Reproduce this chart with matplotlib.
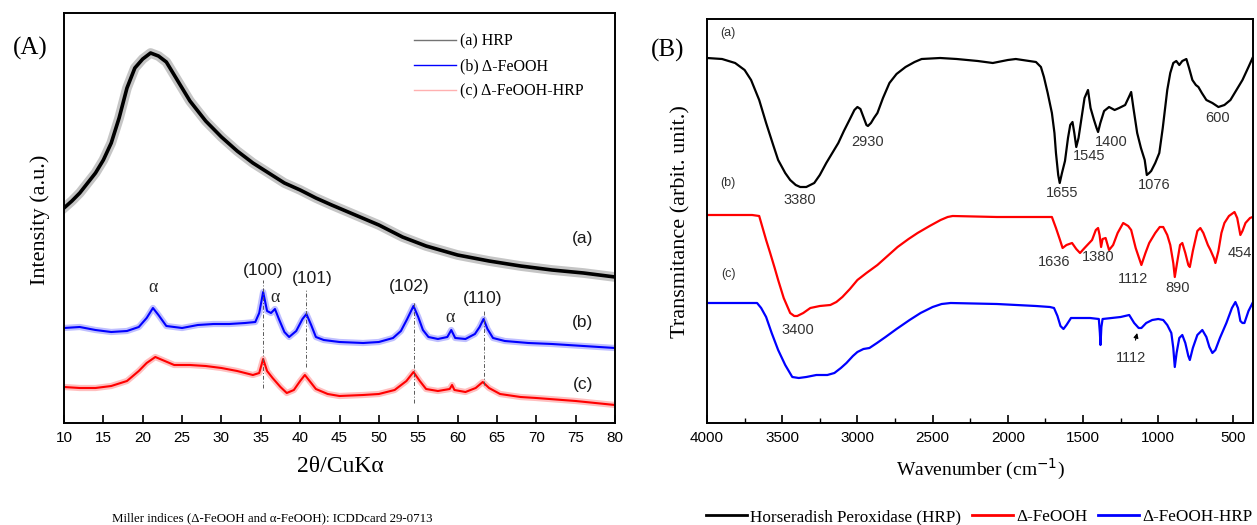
import matplotlib
matplotlib.use('Agg')
import matplotlib.pyplot as plt
from matplotlib.lines import Line2D

plt.rcParams['font.family'] = ['Liberation Serif', 'DejaVu Serif']
SANS = ['Liberation Sans', 'DejaVu Sans']

# ---- XRD patterns (A) ----
tt_a = [10, 11, 12, 13, 14, 15, 16, 17, 18, 19, 20, 21, 22, 23, 24, 25, 26, 27, 28,
        30, 32, 34, 36, 38, 40, 42, 44, 47, 50, 53, 56, 60, 64, 68, 72, 76, 80]
int_a = [215, 222, 230, 240, 250, 263, 280, 305, 335, 355, 364, 370, 367, 361, 348, 335, 322, 312, 302,
         286, 272, 260, 250, 240, 233, 225, 218, 208, 198, 186, 177, 168, 162, 157, 153, 150, 146]

tt_b = [10, 12, 14, 16, 18, 19.5, 20.5, 21.3, 22, 23, 25, 27, 29, 31, 33, 34.3, 34.8, 35.3, 35.8,
        36.3, 36.8, 37.3, 38, 38.6, 39.5, 40.3, 40.8, 41.4, 42, 43, 45, 48, 50, 51.8, 52.8, 53.6,
        54.4, 55, 55.6, 56.3, 57.5, 58.7, 59.2, 59.7, 61, 62.2, 62.8, 63.3, 63.8, 64.5, 66, 69, 72, 76, 80]
int_b = [95, 96, 93, 91, 92, 96, 105, 115, 108, 97, 95, 98, 99, 99, 100, 101, 110, 131, 112,
         110, 114, 104, 91, 86, 92, 104, 109, 98, 86, 83, 81, 80, 81, 85, 92, 104,
         117, 106, 93, 86, 84, 86, 93, 85, 84, 89, 96, 104, 94, 85, 82, 80, 79, 77, 75]

tt_c = [10, 12, 14, 16, 18, 19.5, 20.5, 21.6, 22.5, 24, 26, 28, 30, 32, 34, 34.8, 35.3, 35.8, 36.5,
        37.5, 38.3, 39.2, 40, 40.6, 41.2, 42, 43.5, 45, 48, 50, 52, 53.5, 54.4, 55.2, 56, 57.5,
        59, 59.3, 59.6, 61, 62.3, 63.2, 64, 65.4, 68, 70, 75, 80]
int_c = [36, 35, 35, 37, 42, 52, 60, 66, 63, 58, 58, 57, 55, 52, 48, 50, 64, 52, 45,
         36, 30, 33, 42, 48, 42, 34, 29, 27, 28, 29, 33, 42, 51, 42, 34, 32,
         34, 38, 33, 31, 35, 41, 35, 29, 26, 25, 22, 18]

miller_pos = [35.3, 40.8, 54.5, 63.3]
miller_lbl = ['(100)', '(101)', '(102)', '(110)']
miller_txt_x = [35.3, 41.5, 53.9, 63.2]
miller_txt_y = [153, 144, 136, 125]
drop_top = [143, 133, 122, 113]
drop_bot = [35, 56, 20, 38]
alpha_pos = [21.3, 36.8, 59.0]
alpha_y = [135, 126, 105]

# ---- FTIR spectra (B) ----
wn_a = [4000, 3900, 3813, 3750, 3707, 3653, 3607, 3560, 3527, 3480, 3447, 3410, 3380, 3340, 3287,
        3250, 3207, 3167, 3127, 3090, 3053, 3020, 3000, 2980, 2960, 2940, 2930, 2910, 2890, 2867,
        2830, 2787, 2740, 2680, 2620, 2573, 2450, 2340, 2200, 2100, 2000, 1947, 1813, 1780, 1760,
        1735, 1707, 1690, 1680, 1665, 1655, 1640, 1620, 1600, 1585, 1570, 1558, 1545, 1530, 1510,
        1490, 1467, 1450, 1427, 1410, 1400, 1385, 1360, 1327, 1290, 1260, 1220, 1195, 1180, 1165,
        1140, 1115, 1090, 1076, 1060, 1047, 1020, 993, 970, 940, 920, 900, 880, 860, 840,
        813, 795, 773, 750, 733, 710, 680, 640, 600, 560, 520, 480, 440, 400, 373]
tr_a = [365, 364, 360, 353, 343, 323, 300, 278, 263, 250, 243, 238, 236, 236, 240,
        248, 260, 270, 280, 292, 303, 313, 316, 314, 306, 298, 297, 300, 305, 310,
        325, 340, 349, 356, 361, 364, 365, 364, 362, 360, 363, 364, 361, 356, 346,
        330, 310, 290, 270, 248, 240, 250, 262, 285, 298, 301, 290, 276, 285, 305,
        325, 333, 315, 303, 295, 291, 300, 312, 316, 313, 315, 318, 326, 331, 315,
        290, 275, 263, 248, 250, 252, 260, 270, 295, 333, 350, 360, 362, 358, 362,
        364, 355, 343, 338, 336, 330, 323, 320, 316, 318, 323, 333, 343, 356, 365]

wn_b = [4000, 3700, 3653, 3630, 3607, 3580, 3550, 3527, 3490, 3447, 3420, 3400, 3360, 3313, 3250,
        3180, 3140, 3100, 3050, 3000, 2940, 2867, 2800, 2733, 2660, 2600, 2520, 2447, 2400, 2367,
        2073, 1707, 1680, 1653, 1636, 1610, 1573, 1545, 1520, 1490, 1440, 1415, 1400, 1390, 1380,
        1370, 1350, 1327, 1300, 1270, 1233, 1200, 1180, 1150, 1112, 1085, 1060, 1020, 990, 967,
        940, 920, 900, 890, 875, 855, 840, 820, 800, 790, 770, 740, 720, 700, 670,
        653, 630, 620, 600, 580, 560, 530, 493, 475, 454, 440, 420, 390, 373]
tr_b = [208, 208, 207, 195, 183, 170, 155, 143, 125, 110, 107, 107, 110, 115, 117,
        118, 121, 126, 134, 143, 150, 158, 167, 176, 184, 190, 197, 203, 206, 207,
        206, 206, 195, 183, 175, 178, 180, 174, 170, 175, 183, 193, 195, 188, 176,
        184, 185, 173, 178, 190, 200, 197, 193, 175, 158, 170, 180, 190, 196, 196,
        188, 178, 160, 146, 160, 178, 180, 170, 158, 156, 172, 192, 195, 190, 178,
        173, 165, 160, 172, 190, 200, 207, 211, 205, 188, 192, 200, 205, 206]

wn_c = [4000, 3667, 3640, 3607, 3570, 3527, 3480, 3433, 3390, 3340, 3273, 3200, 3153, 3110, 3073,
        3030, 3000, 2960, 2920, 2870, 2813, 2740, 2653, 2580, 2500, 2440, 2380, 2073, 1813, 1720,
        1693, 1670, 1650, 1630, 1610, 1580, 1560, 1453, 1395, 1388, 1384, 1378, 1370, 1250, 1193,
        1160, 1130, 1112, 1080, 1040, 1000, 967, 940, 913, 900, 890, 878, 860, 840, 820,
        800, 790, 770, 740, 707, 680, 660, 640, 620, 590, 547, 510, 487, 470, 454,
        440, 427, 400, 373]
tr_c = [120, 120, 115, 106, 90, 73, 58, 46, 45, 46, 48, 48, 50, 55, 60,
        67, 71, 74, 75, 80, 86, 94, 103, 110, 116, 119, 120, 119, 117, 116,
        115, 107, 97, 94, 98, 105, 105, 105, 104, 90, 78, 96, 104, 106, 108,
        100, 95, 95, 100, 103, 104, 103, 98, 90, 75, 56, 70, 85, 88, 80,
        67, 63, 75, 88, 93, 86, 76, 70, 73, 85, 100, 115, 121, 115, 102,
        100, 100, 112, 120]

ftir_lbl = ['3380', '2930', '1655', '1545', '1400', '1076', '600',
            '1636', '1380', '1112', '890', '454', '3400']
ftir_lbl_x = [3380, 2930, 1640, 1460, 1312, 1027, 607,
              1693, 1400, 1167, 873, 460, 3393]
ftir_lbl_y = [223, 281, 230, 267, 281, 238, 305,
              161, 166, 144, 135, 170, 93]

W, H = 1257, 525
fig = plt.figure(figsize=(W / 100, H / 100), dpi=100)


def box(x0, y0, x1, y1):
    return [x0 / W, 1 - y1 / H, (x1 - x0) / W, (y1 - y0) / H]


def style(ax):
    for s in ax.spines.values():
        s.set_linewidth(1.4)
    ax.tick_params(axis='x', direction='in', length=6, width=1.2, labelsize=11, pad=6)
    ax.tick_params(axis='x', which='minor', direction='in', length=3.5, width=1.0)
    ax.tick_params(axis='y', left=False, labelleft=False)
    for t in ax.get_xticklabels():
        t.set_family(SANS)


# left panel
ax1 = fig.add_axes(box(64, 13, 615, 423))
ax1.plot(tt_a, int_a, color='0.5', lw=7, alpha=0.45, solid_joinstyle='round')
ax1.plot(tt_a, int_a, color='black', lw=2.6)
ax1.plot(tt_b, int_b, color='#8080ff', lw=4.5, alpha=0.5)
ax1.plot(tt_b, int_b, color='blue', lw=1.5)
ax1.plot(tt_c, int_c, color='#ff8080', lw=4.5, alpha=0.5)
ax1.plot(tt_c, int_c, color='red', lw=1.5)
ax1.set_xlim(10, 80)
ax1.set_ylim(0, 410)
ax1.set_xticks(range(10, 81, 5))
style(ax1)

for p, t, b in zip(miller_pos, drop_top, drop_bot):
    ax1.vlines(p, b, t, colors='0.35', lw=0.7, linestyles=(0, (4, 2, 1, 2)))
for lbl, x, y in zip(miller_lbl, miller_txt_x, miller_txt_y):
    ax1.text(x, y, lbl, ha='center', va='center', fontsize=12.5, family=SANS, color='0.1')
for x, y in zip(alpha_pos, alpha_y):
    ax1.text(x, y, '\u03b1', ha='center', va='center', fontsize=13, color='0.15')
for lbl, y in zip(['(a)', '(b)', '(c)'], [185, 101, 38]):
    ax1.text(75.9, y, lbl, ha='center', va='center', fontsize=12.5, family=SANS, color='0.1')

hd = [Line2D([], [], color='0.45', lw=1.0),
      Line2D([], [], color='blue', lw=1.0),
      Line2D([], [], color='#ffb0b0', lw=1.0)]
ax1.legend(hd, ['(a) HRP', '(b) \u0394-FeOOH', '(c) \u0394-FeOOH-HRP'],
           loc='upper left', bbox_to_anchor=(0.61, 0.985), frameon=False,
           fontsize=11.5, handlelength=2.6, handletextpad=0.25, labelspacing=0.55)

fig.text(30 / W, 1 - 48 / H, '(A)', fontsize=18, ha='center', va='center')
fig.text(40 / W, 1 - 220 / H, 'Intensity (a.u.)', fontsize=16, rotation=90,
         ha='center', va='center')
fig.text(340 / W, 1 - 467 / H, '2\u03b8/CuK\u03b1', fontsize=17, ha='center', va='center')
fig.text(272 / W, 1 - 518 / H,
         'Miller indices (\u0394-FeOOH and \u03b1-FeOOH): ICDDcard 29-0713',
         fontsize=9.3, ha='center', va='center')

# right panel
ax2 = fig.add_axes(box(707, 19, 1253, 423))
ax2.plot(wn_a, tr_a, color='black', lw=1.6)
ax2.plot(wn_b, tr_b, color='red', lw=1.6)
ax2.plot(wn_c, tr_c, color='blue', lw=1.6)
ax2.set_xlim(4000, 370)
ax2.set_ylim(0, 404)
ax2.set_xticks(range(4000, 499, -500))
ax2.set_xticks(range(3750, 499, -500), minor=True)
style(ax2)

for lbl, x, y in zip(ftir_lbl, ftir_lbl_x, ftir_lbl_y):
    ax2.text(x, y, lbl, ha='center', va='center', fontsize=10.5, family=SANS, color='0.2')
ax2.annotate('1112', xy=(1140, 90), xytext=(1180, 65), ha='center', va='center',
             fontsize=10.5, family=SANS, color='0.2',
             arrowprops=dict(arrowstyle='-|>', color='black', lw=0.8, mutation_scale=7,
                             shrinkA=6, shrinkB=0))
for lbl, y in zip(['(a)', '(b)', '(c)'], [390, 240, 149]):
    ax2.text(3860, y, lbl, ha='center', va='center', fontsize=9, family=SANS, color='0.2')

fig.text(668 / W, 1 - 50 / H, '(B)', fontsize=18, ha='center', va='center')
fig.text(681 / W, 1 - 222 / H, 'Transmitance (arbit. unit.)', fontsize=16, rotation=90,
         ha='center', va='center')
fig.text(980 / W, 1 - 469 / H, 'Wavenumber (cm$^{-1}$)', fontsize=14,
         ha='center', va='center')

hd2 = [Line2D([], [], color='black', lw=2),
       Line2D([], [], color='red', lw=2),
       Line2D([], [], color='blue', lw=2)]
fig.legend(hd2, ['Horseradish Peroxidase (HRP)', '\u0394-FeOOH', '\u0394-FeOOH-HRP'],
           loc='center', bbox_to_anchor=(979 / W, 1 - 517 / H), ncol=3, frameon=False,
           fontsize=12.3, handlelength=2.4, handletextpad=0.2, columnspacing=0.6)

fig.savefig('out.png', dpi=100)
